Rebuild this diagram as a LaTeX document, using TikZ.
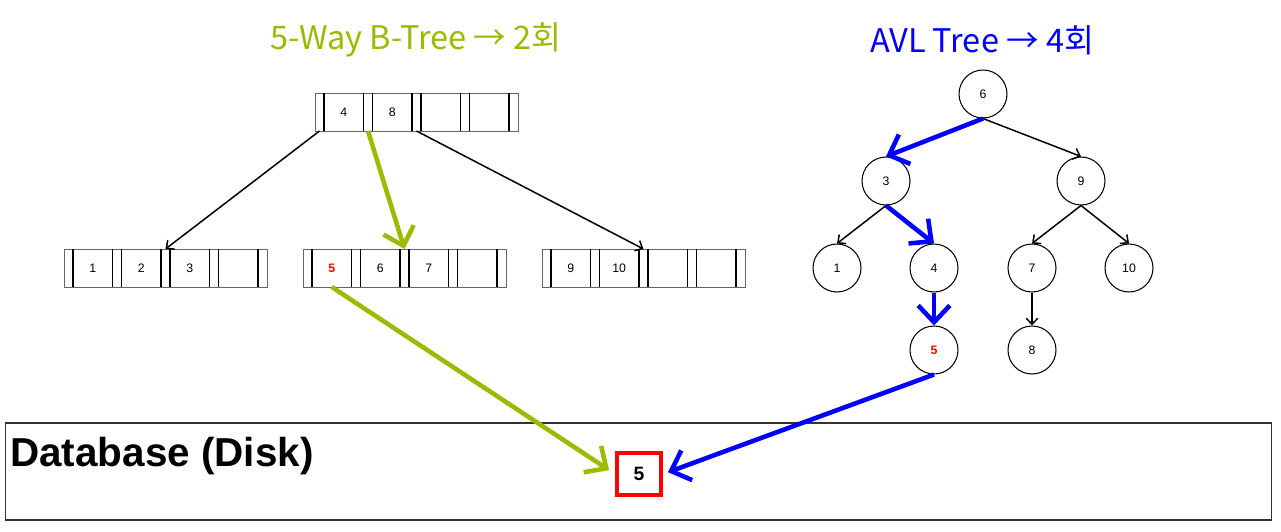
\documentclass[tikz,border=0pt]{standalone}
\usepackage{fontspec}
\setmainfont{Liberation Sans}
\newfontfamily\krfont{Noto Sans CJK KR}
\usepackage{tikz}
\usetikzlibrary{arrows.meta, positioning}
\definecolor{btgreen}{RGB}{153,187,0}
\definecolor{avlblue}{RGB}{0,0,255}
\definecolor{hitred}{RGB}{255,0,0}
\tikzset{
  btcell/.style={rectangle, draw=black!60, line width=0.5pt, outer sep=0pt,
                 inner sep=0pt, minimum height=0.76cm,
                 font=\fontsize{7}{8}\selectfont},
  btptr/.style={btcell, minimum width=0.18cm},
  btkey/.style={btcell, minimum width=0.79cm},
  btside/.style={line width=1.1pt, black},
  avlnode/.style={circle, draw, line width=0.6pt, minimum size=0.96cm,
                  inner sep=0pt, font=\fontsize{7}{8}\selectfont},
  treearrow/.style={-{Straight Barb[length=3.5pt, width=6.5pt]}, line width=0.85pt},
  patharrow/.style={-{Straight Barb[length=9.5pt, width=18pt]}, line width=2.6pt},
  btpath/.style={patharrow, btgreen},
  avlpath/.style={patharrow, avlblue},
  title/.style={font=\krfont\fontsize{18.5}{22}\selectfont},
}
\newcommand{\found}[1]{\textcolor{hitred}{\textbf{#1}}}
% no da B-Tree: ponteiros e chaves
\newcommand{\btnode}[6]{%
  \node[btptr, anchor=north west] (#1p0) at (#2) {};
  \node[btkey, right=0pt of #1p0] (#1k1) {#3};
  \node[btptr, right=0pt of #1k1] (#1p1) {};
  \node[btkey, right=0pt of #1p1] (#1k2) {#4};
  \node[btptr, right=0pt of #1k2] (#1p2) {};
  \node[btkey, right=0pt of #1p2] (#1k3) {#5};
  \node[btptr, right=0pt of #1k3] (#1p3) {};
  \node[btkey, right=0pt of #1p3] (#1k4) {#6};
  \node[btptr, right=0pt of #1k4] (#1p4) {};
  \foreach \k in {k1,k2,k3,k4}
    \draw[btside] (#1\k.north west) -- (#1\k.south west)
                  (#1\k.north east) -- (#1\k.south east);
}
\begin{document}
\begin{tikzpicture}[x=0.02cm, y=-0.02cm]
  \useasboundingbox (0,0) rectangle (1281,531);

  % Titulos
  \node[title, text=btgreen] (bttitle) at (416,40) {5-Way B-Tree → 2회};
  \node[title, text=avlblue] (avltitle) at (982,40) {AVL Tree → 4회};

  % B-Tree
  \btnode{btr}{315,93}{4}{8}{}{}
  \btnode{bta}{64,249}{1}{2}{3}{}
  \btnode{btb}{303,249}{\found{5}}{6}{7}{}
  \btnode{btc}{542,249}{9}{10}{}{}

  % AVL
  \node[avlnode] (avl6) at (983,94) {6};
  \node[avlnode] (avl3) at (886,181) {3};
  \node[avlnode] (avl9) at (1081,181) {9};
  \node[avlnode] (avl1) at (837,268) {1};
  \node[avlnode] (avl4) at (934,268) {4};
  \node[avlnode] (avl7) at (1032,268) {7};
  \node[avlnode] (avl10) at (1129,268) {10};
  \node[avlnode] (avl5) at (934,350) {\found{5}};
  \node[avlnode] (avl8) at (1032,350) {8};

  % Disco
  \node[rectangle, draw=black!80, line width=0.6pt, minimum width=25.34cm,
        minimum height=1.94cm] (db) at (638.5,471.5) {};
  \node[anchor=base west, inner sep=0pt, font=\bfseries\fontsize{23}{26}\selectfont]
    (dbtitle) at (10,466) {Database (Disk)};
  \node[rectangle, draw=hitred, line width=2.3pt, minimum width=0.88cm,
        minimum height=0.84cm, font=\bfseries\fontsize{11}{12}\selectfont]
    (hit) at (639,474) {5};

  % Ligacoes
  \draw[treearrow] (btrp0.south) -- (btap2.north);
  \draw[treearrow] (btrp2.south) -- (btcp2.north);
  \draw[btpath] (btrp1.south) -- (btbp2.north);
  \draw[btpath, shorten >=4pt] (btbk1.south) -- (hit.west);

  \draw[treearrow] (avl6.south) -- (avl9.north);
  \draw[treearrow] (avl3.south) -- (avl1.north);
  \draw[treearrow] (avl9.south) -- (avl7.north);
  \draw[treearrow] (avl9.south) -- (avl10.north);
  \draw[treearrow] (avl7.south) -- (avl8.north);
  \draw[avlpath] (avl6.south) -- (avl3.north);
  \draw[avlpath] (avl3.south) -- (avl4.north);
  \draw[avlpath] (avl4.south) -- (avl5.north);
  \draw[avlpath, shorten >=3pt] (avl5.south) -- (hit.east);
\end{tikzpicture}
\end{document}
